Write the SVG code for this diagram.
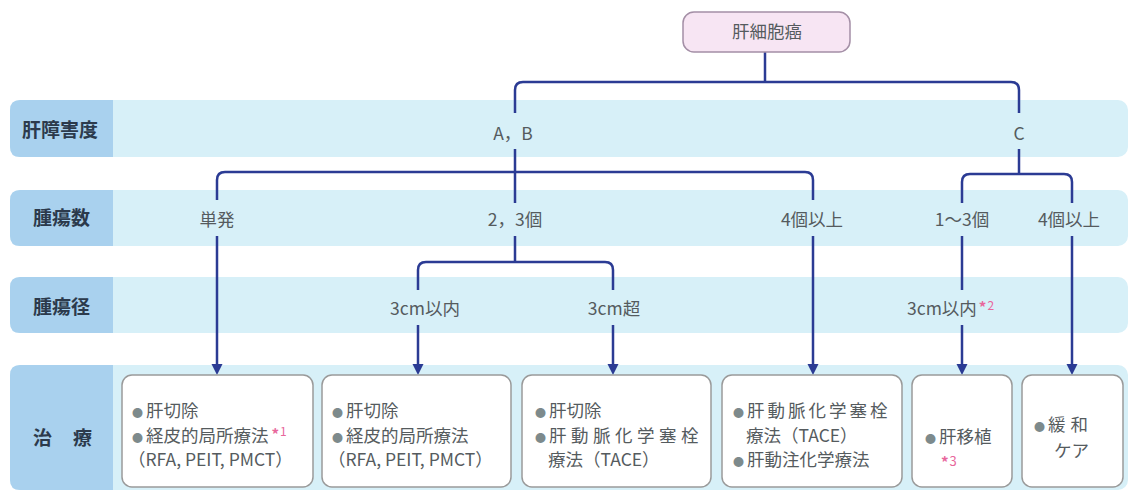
<svg xmlns="http://www.w3.org/2000/svg" width="1131" height="491" viewBox="0 0 1131 491">
<style>
.band{fill:#d7f0f8}
.lab{fill:#a9d1ee}
.rowt{font-family:"Noto Sans CJK JP","Noto Sans",sans-serif;font-size:19px;font-weight:bold;fill:#2c3a4c}
.t{font-family:"Noto Sans CJK JP","Noto Sans",sans-serif;font-size:17.5px;fill:#555b5e}
.mid{text-anchor:middle}
.pk{fill:#e8679c;font-size:12px}
.bul{fill:#7d8a8c;font-size:11px}
.box{fill:#ffffff;stroke:#9a9a9a;stroke-width:1.5}
.ln{fill:none;stroke:#2b3b94;stroke-width:2.5}
</style>
<defs>
<marker id="ah" markerUnits="userSpaceOnUse" markerWidth="12" markerHeight="12" refX="3" refY="5.5" orient="auto">
<path d="M0,0 L11,5.5 L0,11 z" fill="#2b3b94"/>
</marker>
</defs>
<rect width="1131" height="491" fill="#ffffff"/>
<g id="bands">
<rect class="band" x="10" y="100" width="1118" height="57" rx="10"/>
<path class="lab" d="M113,100 H20 Q10,100 10,110 V147 Q10,157 20,157 H113 Z"/>
<rect class="band" x="10" y="190" width="1118" height="56" rx="10"/>
<path class="lab" d="M113,190 H20 Q10,190 10,200 V236 Q10,246 20,246 H113 Z"/>
<rect class="band" x="10" y="277" width="1118" height="56" rx="10"/>
<path class="lab" d="M113,277 H20 Q10,277 10,287 V323 Q10,333 20,333 H113 Z"/>
<rect class="band" x="10" y="365" width="1118" height="125" rx="10"/>
<path class="lab" d="M113,365 H20 Q10,365 10,375 V480 Q10,490 20,490 H113 Z"/>
<text class="rowt" x="22" y="137">肝障害度</text>
<text class="rowt" x="33" y="225">腫瘍数</text>
<text class="rowt" x="33" y="314">腫瘍径</text>
<text class="rowt" x="33" y="445">治<tspan dx="21">療</tspan></text>
</g>
<g id="connectors">
<path class="ln" d="M765,52 V82"/>
<path class="ln" d="M515,113 V90 Q515,82 523,82 H1011 Q1019,82 1019,90 V113"/>
<path class="ln" d="M515,149 V203 M515,236 V262"/>
<path class="ln" d="M217,200 V180 Q217,172 225,172 H805 Q813,172 813,180 V200"/>
<path class="ln" d="M1019,149 V174"/>
<path class="ln" d="M962,203 V182 Q962,174 970,174 H1064 Q1072,174 1072,182 V203"/>
<path class="ln" d="M418,290 V270 Q418,262 426,262 H605 Q613,262 613,270 V290"/>
<path class="ln" d="M962,236 V290"/>
<path class="ln" marker-end="url(#ah)" d="M217,236 V367"/>
<path class="ln" marker-end="url(#ah)" d="M813,236 V367"/>
<path class="ln" marker-end="url(#ah)" d="M1072,236 V367"/>
<path class="ln" marker-end="url(#ah)" d="M962,325 V367"/>
<path class="ln" marker-end="url(#ah)" d="M418,325 V367"/>
<path class="ln" marker-end="url(#ah)" d="M613,325 V367"/>
</g>
<g id="root">
<rect x="683" y="12" width="167" height="40" rx="11" fill="#f7e5f3" stroke="#a48fa6" stroke-width="1.5"/>
<text class="t mid" x="767" y="38">肝細胞癌</text>
</g>
<g id="labels">
<text class="t mid" x="513" y="140">A，B</text>
<text class="t mid" x="1019" y="140">C</text>
<text class="t mid" x="217" y="226">単発</text>
<text class="t mid" x="515" y="226">2，3個</text>
<text class="t mid" x="812" y="226">4個以上</text>
<text class="t mid" x="962" y="226">1〜3個</text>
<text class="t mid" x="1069" y="226">4個以上</text>
<text class="t mid" x="425" y="315">3cm以内</text>
<text class="t mid" x="614" y="315">3cm超</text>
<text class="t" x="907" y="315">3cm以内<tspan class="pk" dx="2" dy="-2" style="font-size:15px;font-weight:bold">*</tspan><tspan class="pk" dx="1" dy="-3">2</tspan></text>
</g>
<g id="box1">
<rect class="box" x="122" y="375" width="191" height="112" rx="10"/>
<text class="t" x="132" y="417"><tspan class="bul">●</tspan><tspan dx="3">肝切除</tspan></text>
<text class="t" x="132" y="442"><tspan class="bul">●</tspan><tspan dx="3">経皮的局所療法</tspan><tspan class="pk" dx="3" dy="-2" style="font-size:15px;font-weight:bold">*</tspan><tspan class="pk" dx="1" dy="-4">1</tspan></text>
<text class="t" x="128" y="466">（RFA, PEIT, PMCT）</text>
</g>
<g id="box2">
<rect class="box" x="322" y="375" width="189" height="112" rx="10"/>
<text class="t" x="332" y="417"><tspan class="bul">●</tspan><tspan dx="3">肝切除</tspan></text>
<text class="t" x="332" y="442"><tspan class="bul">●</tspan><tspan dx="3">経皮的局所療法</tspan></text>
<text class="t" x="328" y="466">（RFA, PEIT, PMCT）</text>
</g>
<g id="box3">
<rect class="box" x="522" y="375" width="189" height="112" rx="10"/>
<text class="t" x="535" y="417"><tspan class="bul">●</tspan><tspan dx="3">肝切除</tspan></text>
<text class="t" x="535" y="442"><tspan class="bul">●</tspan><tspan dx="3" letter-spacing="4.5">肝動脈化学塞栓</tspan></text>
<text class="t" x="548" y="466">療法（TACE）</text>
</g>
<g id="box4">
<rect class="box" x="722" y="375" width="180" height="112" rx="10"/>
<text class="t" x="733" y="417"><tspan class="bul">●</tspan><tspan dx="3" letter-spacing="3">肝動脈化学塞栓</tspan></text>
<text class="t" x="746" y="442">療法（TACE）</text>
<text class="t" x="733" y="466"><tspan class="bul">●</tspan><tspan dx="3">肝動注化学療法</tspan></text>
</g>
<g id="box5">
<rect class="box" x="912" y="375" width="100" height="112" rx="10"/>
<text class="t" x="925" y="443"><tspan class="bul">●</tspan><tspan dx="3">肝移植</tspan></text>
<text class="t pk" x="941" y="468"><tspan style="font-size:15px;font-weight:bold">*</tspan><tspan dx="1" dy="-2" style="font-size:13px">3</tspan></text>
</g>
<g id="box6">
<rect class="box" x="1022" y="375" width="101" height="112" rx="10"/>
<text class="t" x="1034" y="431"><tspan class="bul">●</tspan><tspan dx="3">緩</tspan><tspan dx="5">和</tspan></text>
<text class="t" x="1054" y="457">ケア</text>
</g>
</svg>
